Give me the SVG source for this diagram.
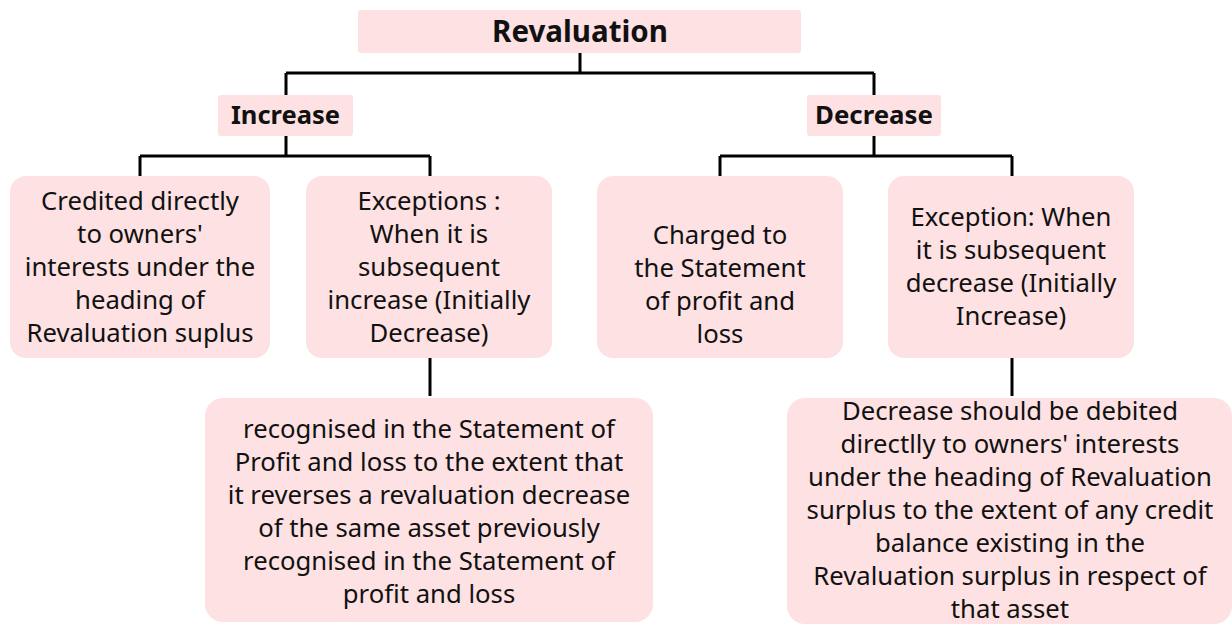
<svg xmlns="http://www.w3.org/2000/svg" width="1232" height="625" viewBox="0 0 1232 625">
<style>
.box{fill:#fde1e3}
.t{font-family:"Noto Sans","Open Sans",sans-serif;font-size:25.7px;fill:#111;text-anchor:middle}
.h{font-family:"Noto Sans","Open Sans",sans-serif;font-weight:bold;fill:#111;text-anchor:middle}
.c{fill:none;stroke:#000;stroke-width:3}
</style>
<rect width="1232" height="625" fill="#fff"/>
<g id="connectors">
<path class="c" d="M580 53V73M286 73H874M286 73V95M874 73V95"/>
<path class="c" d="M286 136V156M140 156H430M140 156V176M430 156V176"/>
<path class="c" d="M874 136V156M720 156H1012M720 156V176M1012 156V176"/>
<path class="c" d="M430 358V396M1012 358V396"/>
</g>
<g id="revaluation"><rect class="box" x="358" y="10" width="443" height="43" rx="3"/><text class="h" x="580" y="42" style="font-size:29.5px">Revaluation</text></g>
<g id="increase"><rect class="box" x="218" y="95" width="135" height="41" rx="3"/><text class="h" x="285.5" y="124" style="font-size:25.5px">Increase</text></g>
<g id="decrease"><rect class="box" x="807" y="95" width="134" height="41" rx="3"/><text class="h" x="874" y="124" style="font-size:25.8px">Decrease</text></g>
<g id="credited"><rect class="box" x="10" y="176" width="260" height="182" rx="16"/>
<text class="t"><tspan x="140" y="210">Credited directly</tspan><tspan x="140" y="243">to owners'</tspan><tspan x="140" y="276">interests under the</tspan><tspan x="140" y="309">heading of</tspan><tspan x="140" y="342">Revaluation suplus</tspan></text></g>
<g id="exceptions"><rect class="box" x="306" y="176" width="246" height="182" rx="16"/>
<text class="t"><tspan x="429" y="210">Exceptions :</tspan><tspan x="429" y="243">When it is</tspan><tspan x="429" y="276">subsequent</tspan><tspan x="429" y="309">increase (Initially</tspan><tspan x="429" y="342">Decrease)</tspan></text></g>
<g id="charged"><rect class="box" x="597" y="176" width="246" height="182" rx="16"/>
<text class="t"><tspan x="720" y="244">Charged to</tspan><tspan x="720" y="277">the Statement</tspan><tspan x="720" y="310">of profit and</tspan><tspan x="720" y="343">loss</tspan></text></g>
<g id="exception"><rect class="box" x="888" y="176" width="246" height="182" rx="16"/>
<text class="t"><tspan x="1011" y="226">Exception: When</tspan><tspan x="1011" y="259">it is subsequent</tspan><tspan x="1011" y="292">decrease (Initially</tspan><tspan x="1011" y="325">Increase)</tspan></text></g>
<g id="recognised"><rect class="box" x="205" y="398" width="448" height="224" rx="18"/>
<text class="t"><tspan x="429" y="438">recognised in the Statement of</tspan><tspan x="429" y="471">Profit and loss to the extent that</tspan><tspan x="429" y="504">it reverses a revaluation decrease</tspan><tspan x="429" y="537">of the same asset previously</tspan><tspan x="429" y="570">recognised in the Statement of</tspan><tspan x="429" y="603">profit and loss</tspan></text></g>
<g id="debited"><rect class="box" x="787" y="398" width="445" height="226" rx="18"/>
<text class="t"><tspan x="1010" y="420">Decrease should be debited</tspan><tspan x="1010" y="453">directlly to owners' interests</tspan><tspan x="1010" y="486">under the heading of Revaluation</tspan><tspan x="1010" y="519">surplus to the extent of any credit</tspan><tspan x="1010" y="552">balance existing in the</tspan><tspan x="1010" y="585">Revaluation surplus in respect of</tspan><tspan x="1010" y="618">that asset</tspan></text></g>
</svg>
